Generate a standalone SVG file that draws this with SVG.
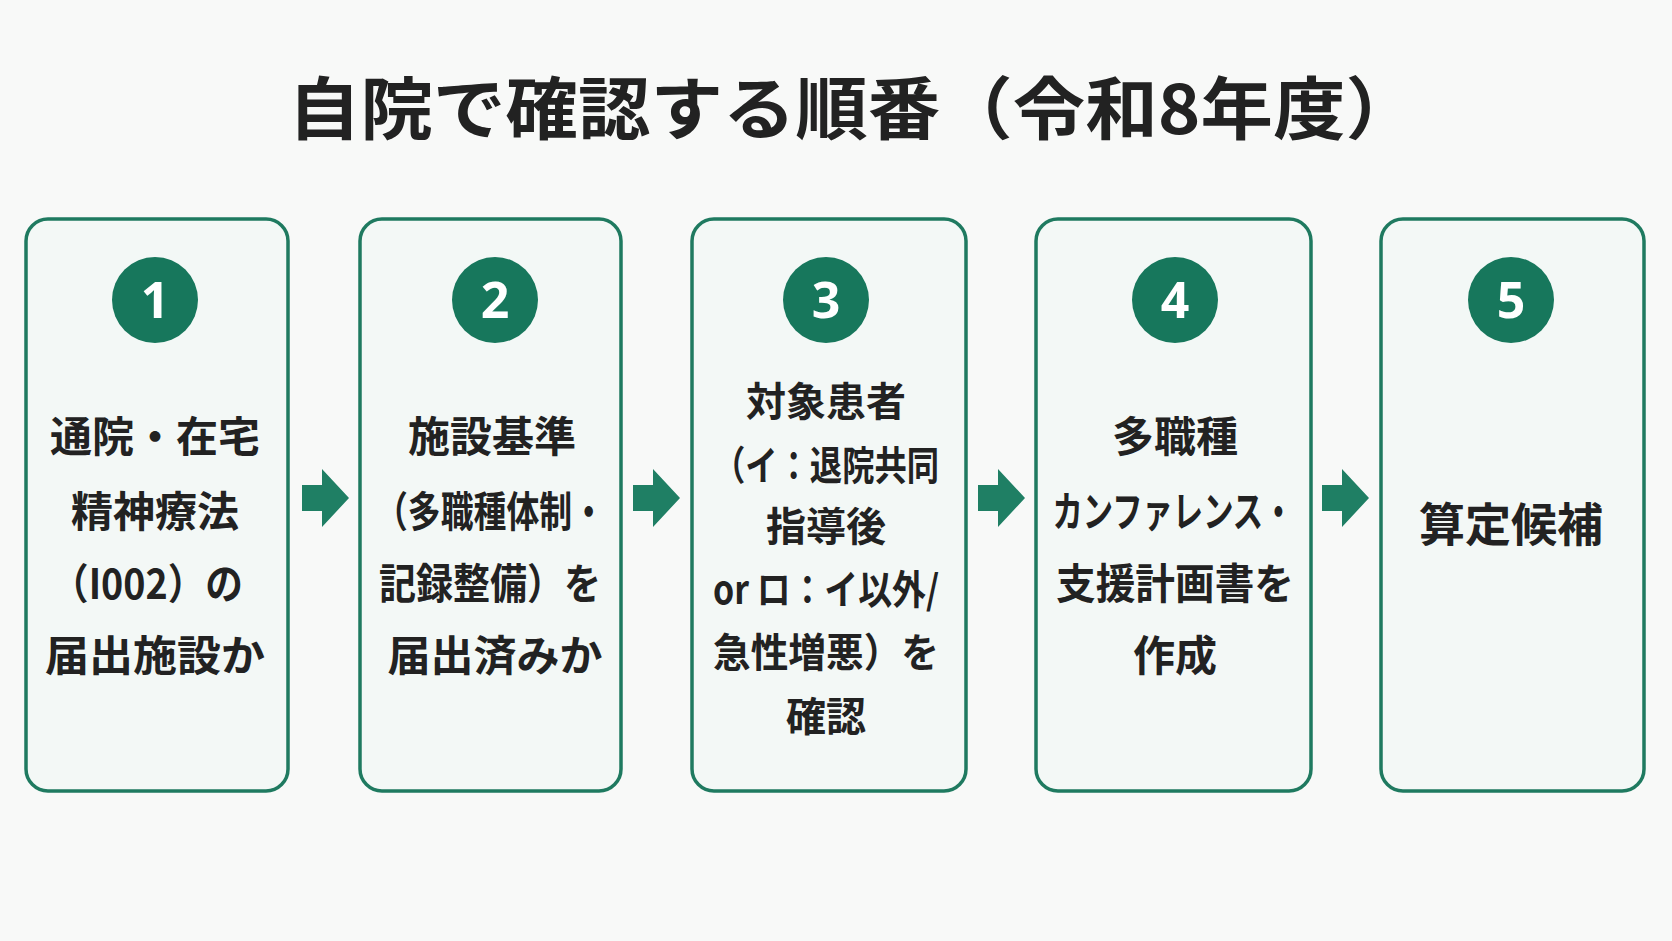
<svg xmlns="http://www.w3.org/2000/svg" width="1672" height="941" viewBox="0 0 1672 941">
<style>
text{font-family:"Noto Sans CJK JP","Noto Sans",sans-serif;font-weight:700;text-anchor:middle;fill:#222}
.box{fill:#f3f8f6;stroke:#1f7a60;stroke-width:3.5}
.num{fill:#17775c}
.n{fill:#fff;font-size:50px;font-family:"Noto Sans",sans-serif}
.t{font-size:42px}
.t3{font-size:40px}
.arr{fill:#1f7f64}
</style>
<rect width="1672" height="941" fill="#f8f9f8"/>
<text x="853" y="134" style="font-size:68px" textLength="1130" lengthAdjust="spacingAndGlyphs">自院で確認する順番（令和8年度）</text>
<g id="node1"><rect class="box" x="26" y="219" width="262" height="572" rx="22"/><circle class="num" cx="155" cy="300" r="43"/><text class="n" x="155" y="318">1</text>
<text class="t" x="155" y="452" textLength="210" lengthAdjust="spacingAndGlyphs">通院・在宅</text><text class="t" x="155" y="527">精神療法</text><text class="t" x="147" y="599" textLength="192" lengthAdjust="spacingAndGlyphs">（I002）の</text><text class="t" x="155" y="671" textLength="220" lengthAdjust="spacingAndGlyphs">届出施設か</text></g>
<g id="node2"><rect class="box" x="360" y="219" width="261" height="572" rx="22"/><circle class="num" cx="495" cy="300" r="43"/><text class="n" x="495" y="318">2</text>
<text class="t" x="492" y="452">施設基準</text><text class="t" x="490" y="527" textLength="230" lengthAdjust="spacingAndGlyphs">（多職種体制・</text><text class="t" x="490" y="599" textLength="222" lengthAdjust="spacingAndGlyphs">記録整備）を</text><text class="t" x="495" y="671" textLength="215" lengthAdjust="spacingAndGlyphs">届出済みか</text></g>
<g id="node3"><rect class="box" x="692" y="219" width="274" height="572" rx="22"/><circle class="num" cx="826" cy="300" r="43"/><text class="n" x="826" y="318">3</text>
<text class="t3" x="826" y="416">対象患者</text><text class="t3" x="826" y="480" textLength="226" lengthAdjust="spacingAndGlyphs">（イ：退院共同</text><text class="t3" x="826" y="541">指導後</text><text class="t3" x="826" y="604" textLength="226" lengthAdjust="spacingAndGlyphs">or ロ：イ以外/</text><text class="t3" x="826" y="667" textLength="226" lengthAdjust="spacingAndGlyphs">急性増悪）を</text><text class="t3" x="826" y="731">確認</text></g>
<g id="node4"><rect class="box" x="1036" y="219" width="275" height="572" rx="22"/><circle class="num" cx="1175" cy="300" r="43"/><text class="n" x="1175" y="318">4</text>
<text class="t" x="1175" y="452">多職種</text><text class="t" x="1173" y="527" textLength="241" lengthAdjust="spacingAndGlyphs">カンファレンス・</text><text class="t" x="1175" y="599" textLength="238" lengthAdjust="spacingAndGlyphs">支援計画書を</text><text class="t" x="1175" y="671">作成</text></g>
<g id="node5"><rect class="box" x="1381" y="219" width="263" height="572" rx="22"/><circle class="num" cx="1511" cy="300" r="43"/><text class="n" x="1511" y="318">5</text>
<text class="t" x="1511" y="541" style="font-size:46px">算定候補</text></g>
<g id="connectors">
<polygon class="arr" points="302,485 322,485 322,469 349,498 322,527 322,511 302,511"/>
<polygon class="arr" points="633,485 653,485 653,469 680,498 653,527 653,511 633,511"/>
<polygon class="arr" points="978,485 998,485 998,469 1025,498 998,527 998,511 978,511"/>
<polygon class="arr" points="1322,485 1342,485 1342,469 1369,498 1342,527 1342,511 1322,511"/>
</g>
</svg>
